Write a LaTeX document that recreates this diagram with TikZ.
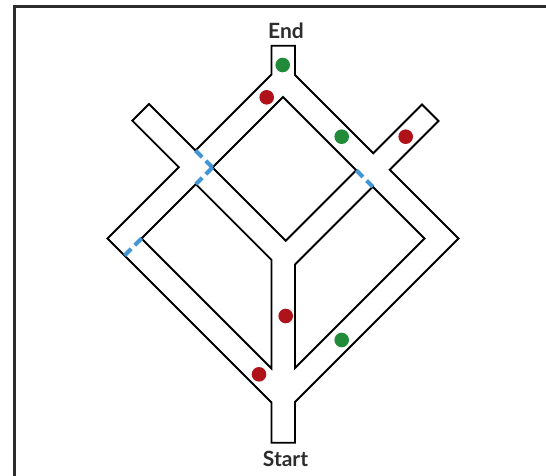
\documentclass[tikz,border=0pt]{standalone}
\usepackage{fontspec}
\setmainfont{Lato}
\definecolor{spotred}{RGB}{176,18,26}
\definecolor{spotgreen}{RGB}{34,139,58}
\definecolor{gateblue}{RGB}{66,150,212}
\definecolor{framegray}{RGB}{45,45,45}
\begin{document}
\begin{tikzpicture}[x=1pt,y=-1pt,
    wall/.style={line width=1.8pt,line join=miter},
    gate/.style={line width=4.2pt,color=gateblue,dash pattern=on 9.5pt off 5pt},
    redspot/.style={fill=spotred},
    greenspot/.style={fill=spotgreen},
    sign/.style={inner sep=0pt,anchor=base,text=framegray,font=\bfseries\fontsize{21}{25}\selectfont}]

    \useasboundingbox (0,0) rectangle (546,476);
    \draw[line width=3pt,color=framegray] (14.5,480) -- (14.5,7) -- (550,7);

    %outer wall
    \coordinate (T1) at (271.5,45.7);
    \coordinate (T2) at (271.5,74.5);
    \coordinate (P1) at (195.5,150.5);
    \coordinate (UL1) at (149,104);
    \coordinate (UL2) at (132.35,120.65);
    \coordinate (P2) at (178.85,167.15);
    \coordinate (LO) at (107.5,238.5);
    \coordinate (S1) at (271.5,402.5);
    \coordinate (S2) at (271.5,442.7);
    \coordinate (S3) at (295,442.7);
    \coordinate (S4) at (295,402);
    \coordinate (RO) at (458.5,238.5);
    \coordinate (Q1) at (389.75,169.75);
    \coordinate (UR1) at (438.5,121);
    \coordinate (UR2) at (422,104.5);
    \coordinate (Q2) at (373.25,153.25);
    \coordinate (T3) at (295,75);
    \coordinate (T4) at (295,45.7);

    \draw[wall] (T1) -- (T2) -- (P1) -- (UL1) -- (UL2) -- (P2) -- (LO) -- (S1) -- (S2) -- (S3)
        -- (S4) -- (RO) -- (Q1) -- (UR1) -- (UR2) -- (Q2) -- (T3) -- (T4) -- cycle;

    %inner walls
    \coordinate (D1) at (283,97);
    \coordinate (D2) at (356.25,170.25);
    \coordinate (D3) at (285.75,240.75);
    \coordinate (D4) at (212.5,167.5);

    \draw[wall] (D1) -- (D2) -- (D3) -- (D4) -- cycle;

    \coordinate (M1) at (195.85,184.15);
    \coordinate (M2) at (271.5,259.8);
    \coordinate (M3) at (271.5,368.5);
    \coordinate (LI) at (141.5,238.5);

    \draw[wall] (M1) -- (M2) -- (M3) -- (LI) -- cycle;

    \coordinate (N1) at (372.75,186.75);
    \coordinate (N2) at (295,264.5);
    \coordinate (N3) at (295,368);
    \coordinate (RI) at (424.5,238.5);

    \draw[wall] (N1) -- (N2) -- (N3) -- (RI) -- cycle;

    %gates
    \coordinate (G4) at (124.5,255.5);
    \draw[gate] (P1) -- (D4);
    \draw[gate] (D4) -- (M1);
    \draw[gate] (D2) -- (N1);
    \draw[gate] (LI) -- (G4);

    %spots
    \fill[greenspot] (282.7,65) circle (7.3);
    \fill[greenspot] (341.7,136.7) circle (7.3);
    \fill[greenspot] (341.7,340) circle (7.3);
    \fill[redspot] (266.7,97.3) circle (7.3);
    \fill[redspot] (405.7,136.7) circle (7.3);
    \fill[redspot] (285.7,316) circle (7.3);
    \fill[redspot] (259,374.3) circle (7.3);

    \node[sign] (end) at (286,39) {End};
    \node[sign] (start) at (285.5,466) {Start};

\end{tikzpicture}
\end{document}
